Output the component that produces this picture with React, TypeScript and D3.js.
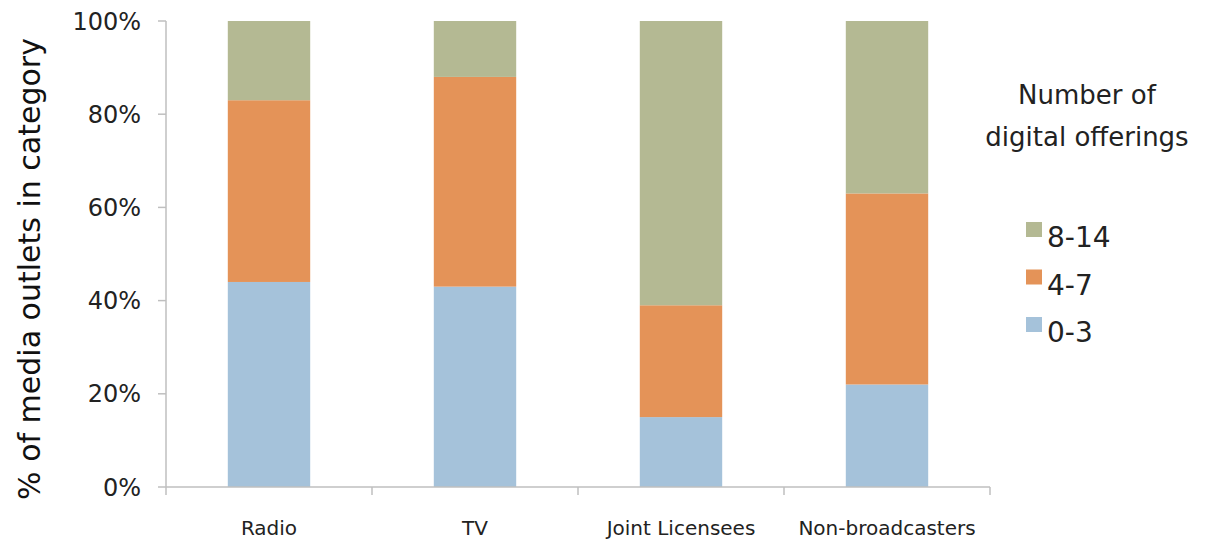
import React from "react";
import * as d3 from "d3";

// Outlet categories along the x axis
const categories = ["Radio", "TV", "Joint Licensees", "Non-broadcasters"];
// Share of outlets (%) by number of digital offerings, bottom to top
const series03 = [44, 43, 15, 22];
const series47 = [39, 45, 24, 41];
const series814 = [17, 12, 61, 37];
const seriesKeys = ["0-3", "4-7", "8-14"];
const seriesColors = ["#A5C2DA", "#E49358", "#B4B993"];
const yTicks = [0, 20, 40, 60, 80, 100];

const W = 1206;
const H = 541;
const M = { left: 166, right: 216, top: 21, bottom: 54 };
const FONT = "'DejaVu Sans', Verdana, sans-serif";

export default function App() {
  const rows = categories.map((c, i) => ({
    category: c,
    "0-3": series03[i],
    "4-7": series47[i],
    "8-14": series814[i],
  }));
  const stacked = d3.stack<any>().keys(seriesKeys)(rows);

  const x = d3
    .scaleBand<string>()
    .domain(categories)
    .range([M.left, W - M.right])
    .paddingInner(0.6)
    .paddingOuter(0.3);
  const y = d3.scaleLinear().domain([0, 100]).range([H - M.bottom, M.top]);
  const base = y(0);
  const x0 = M.left;
  const x1 = W - M.right;
  const tickXs = d3.range(categories.length + 1).map((i) => x0 + i * ((x1 - x0) / categories.length));

  return (
    <svg
      width={W}
      height={H}
      style={{ position: "absolute", left: 0, top: 0, background: "#fff" }}
      fontFamily={FONT}
    >
      {/* stacked bars */}
      {stacked.map((layer, li) => (
        <g key={layer.key} fill={seriesColors[li]}>
          {layer.map((d, i) => (
            <rect
              key={i}
              x={x(categories[i])}
              width={x.bandwidth()}
              y={y(d[1])}
              height={y(d[0]) - y(d[1])}
            />
          ))}
        </g>
      ))}

      {/* y axis */}
      <line x1={x0} x2={x0} y1={y(100)} y2={base} stroke="#BFBFBF" strokeWidth={1.5} />
      {yTicks.map((t) => (
        <g key={t}>
          <line x1={x0 - 8} x2={x0} y1={y(t)} y2={y(t)} stroke="#BFBFBF" strokeWidth={1.5} />
          <text
            x={x0 - 25}
            y={y(t)}
            dy="0.36em"
            textAnchor="end"
            fontSize={24}
            fill="#222"
          >
            {t}%
          </text>
        </g>
      ))}

      {/* x axis */}
      <line x1={x0} x2={x1} y1={base} y2={base} stroke="#BFBFBF" strokeWidth={1.5} />
      {tickXs.map((tx, i) => (
        <line key={i} x1={tx} x2={tx} y1={base} y2={base + 8} stroke="#BFBFBF" strokeWidth={1.5} />
      ))}
      {categories.map((c) => (
        <text
          key={c}
          x={(x(c) as number) + x.bandwidth() / 2}
          y={535}
          textAnchor="middle"
          fontSize={20}
          fill="#222"
        >
          {c}
        </text>
      ))}

      {/* y axis title */}
      <text
        transform={`translate(40, 269) rotate(-90)`}
        textAnchor="middle"
        fontSize={30}
        fill="#111"
      >
        % of media outlets in category
      </text>

      {/* legend */}
      <text x={1087} y={104} textAnchor="middle" fontSize={26} fill="#222">
        Number of
      </text>
      <text x={1087} y={146} textAnchor="middle" fontSize={26} fill="#222">
        digital offerings
      </text>
      {[...seriesKeys].reverse().map((k, i) => {
        const idx = seriesKeys.indexOf(k);
        const cy = 237 + i * 47.5;
        return (
          <g key={k}>
            <rect x={1026} y={cy - 15} width={16} height={15} fill={seriesColors[idx]} />
            <text x={1047} y={cy} dy="0.36em" fontSize={28} fill="#222">
              {k}
            </text>
          </g>
        );
      })}
    </svg>
  );
}
